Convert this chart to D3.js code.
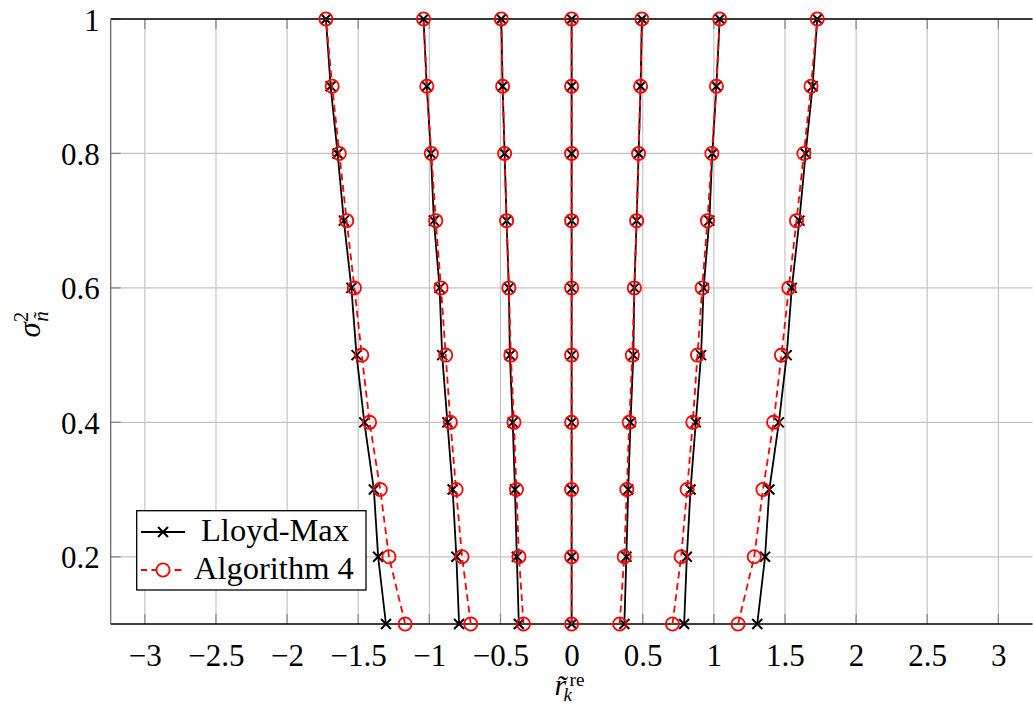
<!DOCTYPE html>
<html>
<head>
<meta charset="utf-8">
<script src="https://cdn.jsdelivr.net/npm/d3@7"></script>
<style>
  body { margin: 0; background: #fff; }
  svg { display: block; }
  svg text { font-family: "Liberation Serif", "DejaVu Serif", serif; fill: #000; }
</style>
</head>
<body>
<svg id="chart" width="1033" height="706" font-family="Liberation Serif, DejaVu Serif, serif"></svg>
<script>
// Noise variance on the vertical axis (one row of reconstruction points each)
const noiseVariance = [0.1, 0.2, 0.3, 0.4, 0.5, 0.6, 0.7, 0.8, 0.9, 1.0];

// Reconstruction levels r_k (k = 1..7), listed bottom to top along noiseVariance
const lloydMax = [
  [-1.305, -1.360, -1.390, -1.457, -1.512, -1.548, -1.601, -1.645, -1.694, -1.727],
  [-0.791, -0.810, -0.836, -0.873, -0.910, -0.928, -0.968, -0.989, -1.018, -1.041],
  [-0.371, -0.385, -0.398, -0.414, -0.434, -0.441, -0.457, -0.471, -0.485, -0.494],
  [0, 0, 0, 0, 0, 0, 0, 0, 0, 0],
  [0.371, 0.385, 0.398, 0.414, 0.434, 0.441, 0.457, 0.471, 0.485, 0.494],
  [0.791, 0.810, 0.836, 0.873, 0.910, 0.928, 0.968, 0.989, 1.018, 1.041],
  [1.305, 1.360, 1.390, 1.457, 1.512, 1.548, 1.601, 1.645, 1.694, 1.727]
];

const algorithm4 = [
  [-1.170, -1.284, -1.345, -1.420, -1.475, -1.527, -1.581, -1.633, -1.683, -1.727],
  [-0.709, -0.770, -0.812, -0.852, -0.885, -0.918, -0.955, -0.986, -1.018, -1.041],
  [-0.338, -0.370, -0.388, -0.405, -0.427, -0.441, -0.457, -0.471, -0.485, -0.494],
  [0, 0, 0, 0, 0, 0, 0, 0, 0, 0],
  [0.338, 0.370, 0.388, 0.405, 0.427, 0.441, 0.457, 0.471, 0.485, 0.494],
  [0.709, 0.770, 0.812, 0.852, 0.885, 0.918, 0.955, 0.986, 1.018, 1.041],
  [1.170, 1.284, 1.345, 1.420, 1.475, 1.527, 1.581, 1.633, 1.683, 1.727]
];

const xTicks = [-3, -2.5, -2, -1.5, -1, -0.5, 0, 0.5, 1, 1.5, 2, 2.5, 3];
const yTicks = [0.2, 0.4, 0.6, 0.8, 1];
const seriesNames = ["Lloyd-Max", "Algorithm 4"];

const svg = d3.select("#chart");
const plotLeft = 110.7, plotRight = 1032.5, plotTop = 19, plotBottom = 624;
const x = d3.scaleLinear().domain([-3.24, 3.24]).range([plotLeft, plotRight]);
const y = d3.scaleLinear().domain([0.1, 1]).range([plotBottom, plotTop]);

const fmt = d => (d < 0 ? "\u2212" + Math.abs(d) : String(d));
const FONT = 31;

// grid
const grid = svg.append("g");
grid.selectAll("line.gx").data(xTicks).join("line")
  .attr("x1", d => x(d)).attr("x2", d => x(d))
  .attr("y1", plotTop).attr("y2", plotBottom)
  .attr("stroke", "#c4c4c4").attr("stroke-width", 1.2);
grid.selectAll("line.gy").data(yTicks).join("line")
  .attr("y1", d => y(d)).attr("y2", d => y(d))
  .attr("x1", plotLeft).attr("x2", plotRight)
  .attr("stroke", "#c4c4c4").attr("stroke-width", 1.2);

// inward tick marks on all sides
const TL = 10;
const tickG = svg.append("g").attr("stroke", "#8c8c8c").attr("stroke-width", 1.3);
tickG.selectAll(null).data(xTicks).join("line")
  .attr("x1", d => x(d)).attr("x2", d => x(d)).attr("y1", plotBottom).attr("y2", plotBottom - TL);
tickG.selectAll(null).data(xTicks).join("line")
  .attr("x1", d => x(d)).attr("x2", d => x(d)).attr("y1", plotTop).attr("y2", plotTop + TL);
tickG.selectAll(null).data(yTicks).join("line")
  .attr("y1", d => y(d)).attr("y2", d => y(d)).attr("x1", plotLeft).attr("x2", plotLeft + TL);

// frame
const frame = svg.append("g").attr("stroke", "#000").attr("stroke-width", 1.3);
frame.append("line").attr("x1", plotLeft).attr("x2", plotRight).attr("y1", plotTop).attr("y2", plotTop);
frame.append("line").attr("x1", plotLeft).attr("x2", plotRight).attr("y1", plotBottom).attr("y2", plotBottom);
frame.append("line").attr("x1", plotLeft).attr("x2", plotLeft).attr("y1", plotTop).attr("y2", plotBottom)
  .attr("stroke", "#6a6a6a");

// axis tick labels via d3 axes
const xAxis = svg.append("g").attr("transform", `translate(0,${plotBottom})`)
  .call(d3.axisBottom(x).tickValues(xTicks).tickFormat(fmt).tickSize(0).tickPadding(0));
xAxis.select(".domain").remove();
xAxis.attr("font-family", null).attr("font-size", null);
xAxis.selectAll("text").attr("font-size", FONT).attr("dy", null).attr("y", 42);

const yAxis = svg.append("g").attr("transform", `translate(${plotLeft},0)`)
  .call(d3.axisLeft(y).tickValues(yTicks).tickFormat(fmt).tickSize(0).tickPadding(0));
yAxis.select(".domain").remove();
yAxis.attr("font-family", null).attr("font-size", null);
yAxis.selectAll("text").attr("font-size", FONT).attr("dy", null).attr("x", -11).attr("y", 11);

// series
const line = d3.line().x(d => x(d[0])).y(d => y(d[1]));
const pts = arr => arr.map((v, i) => [v, noiseVariance[i]]);

function crossPath(s) {
  return `M${-s},${-s}L${s},${s}M${-s},${s}L${s},${-s}`;
}

const lmG = svg.append("g");
lloydMax.forEach(level => {
  lmG.append("path").attr("d", line(pts(level)))
    .attr("fill", "none").attr("stroke", "#000").attr("stroke-width", 1.8);
  lmG.selectAll(null).data(pts(level)).join("path")
    .attr("transform", d => `translate(${x(d[0])},${y(d[1])})`)
    .attr("d", crossPath(5)).attr("stroke", "#000").attr("stroke-width", 2);
});

const a4G = svg.append("g");
algorithm4.forEach(level => {
  a4G.append("path").attr("d", line(pts(level)))
    .attr("fill", "none").attr("stroke", "#ff0000").attr("stroke-width", 1.8)
    .attr("stroke-dasharray", "7,4.5");
  a4G.selectAll(null).data(pts(level)).join("circle")
    .attr("cx", d => x(d[0])).attr("cy", d => y(d[1])).attr("r", 6.6)
    .attr("fill", "none").attr("stroke", "#ff0000").attr("stroke-width", 1.8);
});

// x axis label: r~ with superscript "re" and subscript k
const xl = svg.append("g").attr("transform", `translate(${x(0)},0)`);
xl.append("text").attr("x", -17).attr("y", 695).attr("font-size", 30)
  .attr("font-style", "italic").text("r\u0303");
xl.append("text").attr("x", -2).attr("y", 686).attr("font-size", 19).text("re");
xl.append("text").attr("x", -8).attr("y", 701).attr("font-size", 19)
  .attr("font-style", "italic").text("k");

// y axis label: sigma^2 with subscript n~
const yl = svg.append("text")
  .attr("transform", `translate(40,${(plotTop + plotBottom) / 2}) rotate(-90)`)
  .attr("x", -16).attr("y", 0).attr("font-size", FONT);
yl.append("tspan").attr("font-style", "italic").text("\u03c3");
yl.append("tspan").attr("font-size", 21).attr("dy", -12).text("2");
yl.append("tspan").attr("font-size", 21).attr("font-style", "italic")
  .attr("dx", -10).attr("dy", 20).text("n\u0303");

// legend
const lg = svg.append("g");
lg.append("rect").attr("x", 136.7).attr("y", 510.7).attr("width", 229.3).attr("height", 79.3)
  .attr("fill", "#fff").attr("stroke", "#000").attr("stroke-width", 1.3);
const rows = [532, 570];
// Lloyd-Max entry
lg.append("line").attr("x1", 141).attr("x2", 185).attr("y1", rows[0]).attr("y2", rows[0])
  .attr("stroke", "#000").attr("stroke-width", 1.8);
lg.append("path").attr("transform", `translate(163,${rows[0]})`).attr("d", crossPath(5))
  .attr("stroke", "#000").attr("stroke-width", 2);
// Algorithm 4 entry
lg.append("line").attr("x1", 141).attr("x2", 185).attr("y1", rows[1]).attr("y2", rows[1])
  .attr("stroke", "#ff0000").attr("stroke-width", 1.8).attr("stroke-dasharray", "7,4.5")
  .attr("stroke-dashoffset", 1);
lg.append("circle").attr("cx", 163).attr("cy", rows[1]).attr("r", 6.6)
  .attr("fill", "#fff").attr("stroke", "#ff0000").attr("stroke-width", 1.8);
lg.selectAll("text.entry").data(seriesNames).join("text")
  .attr("x", (d, i) => (i === 0 ? 201 : 194)).attr("y", (d, i) => rows[i] + 9)
  .attr("font-size", 32.5).text(d => d);
</script>
</body>
</html>
